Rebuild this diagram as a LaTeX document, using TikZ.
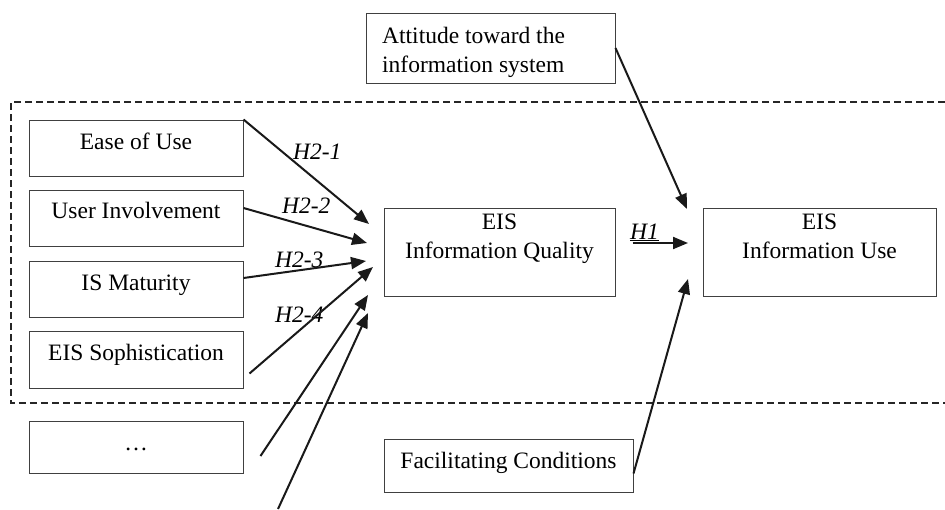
\documentclass[tikz,border=0pt]{standalone}
\usepackage{fontspec}
\setmainfont{Liberation Serif}
\usetikzlibrary{arrows.meta,calc}
\begin{document}
\begin{tikzpicture}[x=1pt,y=-1pt,
  box/.style={draw=black!75, line width=1pt, inner sep=0pt},
  txt/.style={inner sep=0pt, anchor=base, font=\fontsize{23.5}{28.5}\selectfont},
  hlab/.style={inner sep=0pt, anchor=base west, font=\fontsize{23.5}{28.5}\selectfont\itshape},
  arr/.style={draw=black!90, line width=2pt, -{Triangle[length=15pt,width=12pt]}},
  dash box/.style={draw=black!85, line width=1.6pt, dash pattern=on 7pt off 4pt}]
\useasboundingbox (0,0) rectangle (945,509);
\fill[white] (0,0) rectangle (945,509);
% dashed grouping frame (open to the right)
\draw[dash box] (945,102) -- (11,102) -- (11,403) -- (945,403);
% boxes
\node[box, minimum width=214pt, minimum height=56pt] (ease) at (136,148) {};
\node[box, minimum width=214pt, minimum height=56pt] (user) at (136,218) {};
\node[box, minimum width=214pt, minimum height=56pt] (mat) at (136,289) {};
\node[box, minimum width=214pt, minimum height=57pt] (soph) at (136,359.5) {};
\node[box, minimum width=214pt, minimum height=52pt] (dots) at (136,447) {};
\node[box, minimum width=231pt, minimum height=88pt] (qual) at (499.5,252) {};
\node[box, minimum width=233pt, minimum height=88pt] (use) at (819.5,252) {};
\node[box, minimum width=249pt, minimum height=70pt] (att) at (490.5,48) {};
\node[box, minimum width=249pt, minimum height=53pt] (fac) at (508.5,465.5) {};
% texts
\node[txt] (easet) at (136,149) {Ease of Use};
\node[txt] (usert) at (136,218) {User Involvement};
\node[txt] (matt) at (136,290) {IS Maturity};
\node[txt] (sopht) at (136,360) {EIS Sophistication};
\node[txt] (dotst) at (136,450) {…};
\node[txt, align=center] (qualt) at (499.5,258) {EIS\\Information Quality};
\node[txt, align=center] (uset) at (819.5,258) {EIS\\Information Use};
\node[txt, align=left, anchor=base west] (attt) at (382,72) {Attitude toward the\\information system};
\node[txt] (fact) at (508.5,468) {Facilitating Conditions};
% hypothesis labels
\node[hlab] (h21) at (293,159) {H2-1};
\node[hlab] (h22) at (282,213) {H2-2};
\node[hlab] (h23) at (275,267) {H2-3};
\node[hlab] (h24) at (275,322) {H2-4};
\node[hlab] (h1) at (630,239) {\underline{H1}};
% free arrow ends
\coordinate (t1) at (369,224);
\coordinate (t2) at (367,243);
\coordinate (t3) at (366,261);
\coordinate (t4) at (373,267);
\coordinate (t5) at (368,295);
\coordinate (t6) at (368,313);
\coordinate (s6) at (278,509);
\coordinate (tA) at (687,209);
\coordinate (tF) at (688,279);
\coordinate (tH) at (688,243);
% arrows
\draw[arr] (ease.north east) -- (t1);
\draw[arr] ($(user.east)+(0,-10)$) -- (t2);
\draw[arr] ($(mat.east)+(0,-11)$) -- (t3);
\draw[arr] ($(soph.south east)+(6,-15)$) -- (t4);
\draw[arr] ($(dots.east)+(17,9)$) -- (t5);
\draw[arr] (s6) -- (t6);
\draw[arr] (att.east) -- (tA);
\draw[arr] ($(fac.east)+(0,8)$) -- (tF);
\draw[arr] ($(qual.east)+(17,-9)$) -- (tH);
\end{tikzpicture}
\end{document}
